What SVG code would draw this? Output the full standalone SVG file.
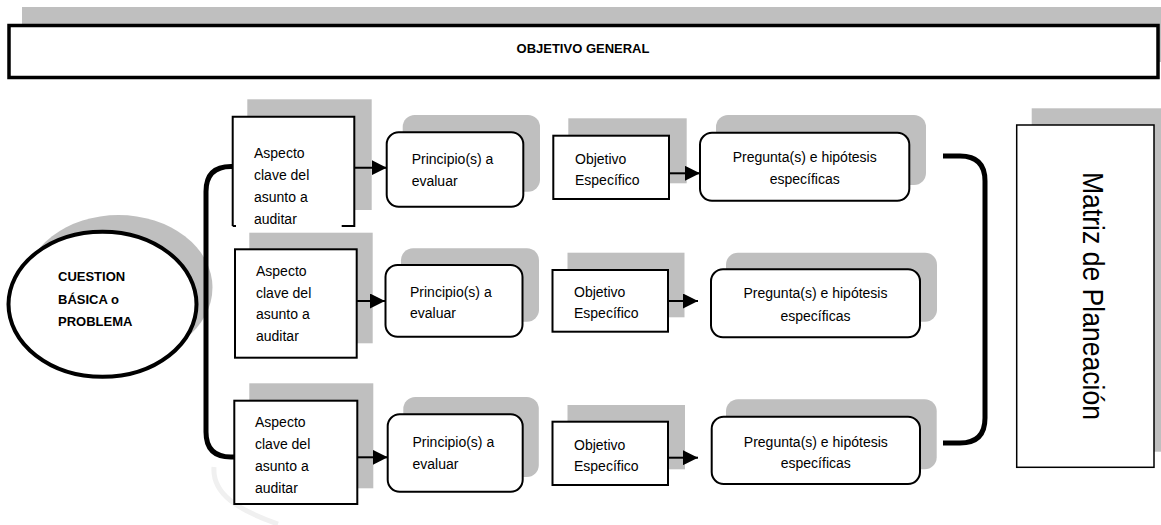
<svg xmlns="http://www.w3.org/2000/svg" width="1161" height="525" viewBox="0 0 1161 525">
<style>
  .sh{fill:#bfbfbf;stroke:none}
  .bx{fill:#fff;stroke:#000;stroke-width:2}
  .t{font-family:"Liberation Sans",Arial,sans-serif;font-size:14px;fill:#000}
  .tb{font-family:"Liberation Sans",Arial,sans-serif;font-size:13px;font-weight:bold;fill:#000}
  .c{text-anchor:middle}
  .br{fill:none;stroke:#000;stroke-width:5}
  .ar{fill:none;stroke:#000;stroke-width:2}
</style>
<defs>
  <marker id="ah" markerUnits="userSpaceOnUse" markerWidth="15" markerHeight="15" refX="15" refY="7.5" orient="auto">
    <path d="M0,0 L15,7.5 L0,15 z" fill="#000"/>
  </marker>
  <clipPath id="clipA1"><rect x="232" y="116" width="124" height="108"/></clipPath>
  <clipPath id="clipA3"><rect x="234" y="400" width="124" height="94.5"/></clipPath>
</defs>
<rect width="1161" height="525" fill="#fff"/>

<path d="M214,467 C212,494 238,510 278,524" fill="none" stroke="#f0f0f0" stroke-width="5"/>

<g id="objetivo-general">
  <rect class="sh" x="22" y="7" width="1150" height="55"/>
  <rect x="9" y="25.5" width="1149" height="52" fill="#fff" stroke="#000" stroke-width="3.5"/>
  <text class="tb" x="583" y="53" text-anchor="middle">OBJETIVO GENERAL</text>
</g>

<g id="cuestion">
  <ellipse class="sh" cx="118.5" cy="287.6" rx="94" ry="72.5"/>
  <ellipse cx="102.5" cy="304.3" rx="94" ry="72.5" fill="#fff" stroke="#000" stroke-width="4"/>
  <text class="tb" x="58" y="281">CUESTION</text>
  <text class="tb" x="58" y="303.5">BÁSICA o</text>
  <text class="tb" x="58" y="326">PROBLEMA</text>
</g>

<!-- Row 1 -->
<g id="aspecto-1">
  <rect class="sh" x="247.3" y="99.3" width="124.4" height="110.7"/>
  <rect x="232.7" y="116.7" width="121.6" height="109.3" fill="#fff"/>
  <path d="M232.7,226 H236 M341.7,226 H354.3 V116.7 H232.7 V226" fill="none" stroke="#000" stroke-width="2"/>
  <g clip-path="url(#clipA1)">
    <text class="t" x="254" y="158.3">Aspecto</text>
    <text class="t" x="254" y="180.3">clave del</text>
    <text class="t" x="254" y="202">asunto a</text>
    <text class="t" x="254" y="223.8">auditar</text>
  </g>
</g>
<g id="principio-1">
  <rect class="sh" x="402.7" y="115" width="137.3" height="76.7" rx="12"/>
  <rect class="bx" x="386.7" y="132.3" width="136.6" height="74.4" rx="12"/>
  <text class="t" x="411.7" y="164">Principio(s) a</text>
  <text class="t" x="411.7" y="185.5">evaluar</text>
</g>
<g id="objetivo-1">
  <rect class="sh" x="568.3" y="118.3" width="118.4" height="65"/>
  <rect class="bx" x="553.3" y="135.7" width="115.7" height="63.3"/>
  <text class="t" x="575" y="164">Objetivo</text>
  <text class="t" x="575" y="184.5">Específico</text>
</g>
<g id="pregunta-1">
  <rect class="sh" x="716" y="115" width="210" height="70" rx="12"/>
  <rect class="bx" x="700" y="132.7" width="209.3" height="68" rx="12"/>
  <text class="t c" x="804.7" y="161.7">Pregunta(s) e hipótesis</text>
  <text class="t c" x="804.7" y="184.3">específicas</text>
</g>

<!-- Row 2 -->
<g id="aspecto-2">
  <rect class="sh" x="249.3" y="232.7" width="123.4" height="110.6"/>
  <rect class="bx" x="235" y="249.3" width="121.7" height="108.4"/>
  <text class="t" x="256" y="276">Aspecto</text>
  <text class="t" x="256" y="297.5">clave del</text>
  <text class="t" x="256" y="319">asunto a</text>
  <text class="t" x="256" y="340.7">auditar</text>
</g>
<g id="principio-2">
  <rect class="sh" x="401" y="248.3" width="138" height="73.4" rx="12"/>
  <rect class="bx" x="385.5" y="265" width="137" height="71.7" rx="12"/>
  <text class="t" x="410" y="296.7">Principio(s) a</text>
  <text class="t" x="410" y="318">evaluar</text>
</g>
<g id="objetivo-2">
  <rect class="sh" x="567.5" y="252.7" width="117" height="64.6"/>
  <rect class="bx" x="552.5" y="270" width="115.5" height="61.7"/>
  <text class="t" x="574" y="297">Objetivo</text>
  <text class="t" x="574" y="318">Específico</text>
</g>
<g id="pregunta-2">
  <rect class="sh" x="726" y="252.7" width="211" height="69" rx="12"/>
  <rect class="bx" x="711" y="269.3" width="209" height="68" rx="12"/>
  <text class="t c" x="815.5" y="298.3">Pregunta(s) e hipótesis</text>
  <text class="t c" x="815.5" y="320.7">específicas</text>
</g>

<!-- Row 3 -->
<g id="aspecto-3">
  <rect class="sh" x="249.3" y="383.3" width="124" height="105"/>
  <rect class="bx" x="234.3" y="400.7" width="123" height="103.3"/>
  <g clip-path="url(#clipA3)">
    <text class="t" x="255" y="426.7">Aspecto</text>
    <text class="t" x="255" y="448.7">clave del</text>
    <text class="t" x="255" y="470.7">asunto a</text>
    <text class="t" x="255" y="492.7">auditar</text>
  </g>
</g>
<g id="principio-3">
  <rect class="sh" x="403.3" y="397" width="135.5" height="80" rx="12"/>
  <rect class="bx" x="387.7" y="414.3" width="135" height="77.4" rx="12"/>
  <text class="t" x="412.5" y="447">Principio(s) a</text>
  <text class="t" x="412.5" y="468.5">evaluar</text>
</g>
<g id="objetivo-3">
  <rect class="sh" x="567.5" y="405" width="117.5" height="64.3"/>
  <rect class="bx" x="552.5" y="421.7" width="115.5" height="63.3"/>
  <text class="t" x="574" y="450">Objetivo</text>
  <text class="t" x="574" y="471">Específico</text>
</g>
<g id="pregunta-3">
  <rect class="sh" x="726" y="399.3" width="210.7" height="70" rx="12"/>
  <rect class="bx" x="711.7" y="416.7" width="208.3" height="67.3" rx="12"/>
  <text class="t c" x="815.8" y="446.7">Pregunta(s) e hipótesis</text>
  <text class="t c" x="815.8" y="468.3">específicas</text>
</g>

<g id="matriz">
  <rect class="sh" x="1031.7" y="108.3" width="140" height="343.4"/>
  <rect x="1016.7" y="125" width="137.3" height="342.3" fill="#fff" stroke="#000" stroke-width="1.5"/>
  <text transform="translate(1083,296) rotate(90)" text-anchor="middle" font-family="'Liberation Sans',Arial,sans-serif" font-size="29" textLength="248" lengthAdjust="spacingAndGlyphs">Matriz de Planeación</text>
</g>

<g id="connectors">
  <path class="br" d="M233,166.5 H231 Q206,166.5 206,191.5 V432 Q206,457 231,457 H235"/>
  <path class="br" d="M943,156 H960 Q985,156 985,181 V418 Q985,443 960,443 H943"/>
  <line class="ar" x1="354" y1="167.7" x2="386.7" y2="167.7" marker-end="url(#ah)"/>
  <line class="ar" x1="669" y1="173.3" x2="700" y2="173.3" marker-end="url(#ah)"/>
  <line class="ar" x1="356" y1="301" x2="385" y2="301" marker-end="url(#ah)"/>
  <line class="ar" x1="668" y1="301" x2="698" y2="301" marker-end="url(#ah)"/>
  <line class="ar" x1="357" y1="457.3" x2="387.7" y2="457.3" marker-end="url(#ah)"/>
  <line class="ar" x1="668" y1="457.7" x2="698" y2="457.7" marker-end="url(#ah)"/>
</g>
</svg>
